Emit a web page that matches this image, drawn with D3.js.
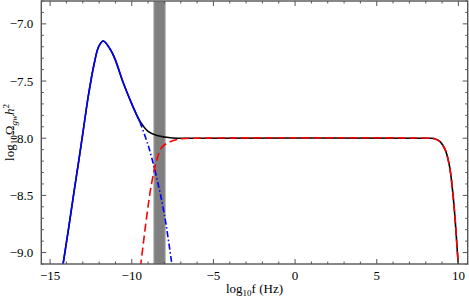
<!DOCTYPE html>
<html>
<head>
<meta charset="utf-8">
<script src="https://cdn.jsdelivr.net/npm/d3@7"></script>
<style>
  body { margin: 0; background: #fff; }
  svg text { font-family: "Liberation Serif", "DejaVu Serif", serif; }
</style>
</head>
<body>
<script>
// values (log10 f, log10 Omega h^2)
const blueCurve = [
  [-14.25, -9.14], [-13.88, -8.80], [-13.58, -8.51], [-13.27, -8.22],
  [-12.96, -7.92], [-12.66, -7.63], [-12.29, -7.34], [-12.02, -7.196],
  [-11.74, -7.15], [-11.33, -7.22], [-11.02, -7.31], [-10.51, -7.52],
  [-10.0, -7.70], [-9.5, -7.86], [-9.0, -8.06], [-8.5, -8.33],
  [-8.0, -8.67], [-7.52, -9.13]
];
const blackTail = [
  [-9.5, -7.85], [-9.0, -7.94], [-8.5, -7.975], [-8.0, -7.99], [-7.5, -7.998],
  [-6.0, -8.0], [8.2, -8.0], [8.5, -8.003], [8.88, -8.03], [9.19, -8.10],
  [9.45, -8.24], [9.66, -8.48], [9.80, -8.71], [9.94, -9.0], [10.02, -9.14]
];
const redCurve = [
  [-9.47, -9.13], [-9.08, -8.68], [-8.78, -8.39], [-8.47, -8.19], [-8.16, -8.08],
  [-7.65, -8.03], [-6.94, -8.005], [-6.0, -8.0], [8.2, -8.0], [8.5, -8.003],
  [8.88, -8.03], [9.19, -8.10], [9.45, -8.24], [9.66, -8.48], [9.80, -8.71],
  [9.94, -9.0], [10.02, -9.14]
];
const bandRange = [-8.65, -7.95];
const xTicks = [-15, -10, -5, 0, 5, 10];
const yTicks = [-9.0, -8.5, -8.0, -7.5, -7.0];

const width = 469, height = 297;
const margin = { top: 1, right: 1.3, bottom: 33, left: 41.3 };
const w = width - margin.left - margin.right;
const h = height - margin.top - margin.bottom;

const svg = d3.select('body').append('svg')
  .attr('width', width)
  .attr('height', height);

const g = svg.append('g')
  .attr('transform', `translate(${margin.left},${margin.top})`);

const x = d3.scaleLinear().domain([-15.54, 10.57]).range([0, w]);
const y = d3.scaleLinear().domain([-9.1, -6.8]).range([h, 0]);

g.append('clipPath').attr('id', 'clip')
  .append('rect').attr('width', w).attr('height', h);

const plot = g.append('g').attr('clip-path', 'url(#clip)');

// grey band
plot.append('rect')
  .attr('x', x(bandRange[0]))
  .attr('y', 0)
  .attr('width', x(bandRange[1]) - x(bandRange[0]))
  .attr('height', h)
  .attr('fill', '#7f7f7f')
  .attr('stroke', '#b3b3b3')
  .attr('stroke-width', 1);

const line = d3.line()
  .x(d => x(d[0]))
  .y(d => y(d[1]))
  .curve(d3.curveCatmullRom.alpha(0.5));

// total (black) follows the blue curve on the left
const blackCurve = blueCurve.filter(d => d[0] < -9.5).concat(blackTail);
plot.append('path')
  .attr('d', line(blackCurve))
  .attr('fill', 'none')
  .attr('stroke', '#000')
  .attr('stroke-width', 1.6);

plot.append('path')
  .attr('d', line(blueCurve.filter(d => d[0] <= -9.5)))
  .attr('fill', 'none')
  .attr('stroke', '#0000ff')
  .attr('stroke-width', 1.6);

plot.append('path')
  .attr('d', line(blueCurve.filter(d => d[0] >= -9.5)))
  .attr('fill', 'none')
  .attr('stroke', '#0000ff')
  .attr('stroke-width', 1.6)
  .attr('stroke-dasharray', '6,2.5,1.5,2.5');

plot.append('path')
  .attr('d', line(redCurve))
  .attr('fill', 'none')
  .attr('stroke', '#ff0000')
  .attr('stroke-width', 1.6)
  .attr('stroke-dasharray', '8,4');

// frame with inward ticks
const frameColor = '#555';
const xMinor = d3.range(-15, 11, 1);
const yMinor = d3.range(-9.1, -6.79, 0.1).map(v => Math.round(v * 10) / 10);

const ticks = g.append('g').attr('stroke', frameColor).attr('stroke-width', 1);
xMinor.forEach(v => {
  const len = v % 5 === 0 ? 5 : 2.5;
  ticks.append('line').attr('x1', x(v)).attr('x2', x(v)).attr('y1', h).attr('y2', h - len);
  ticks.append('line').attr('x1', x(v)).attr('x2', x(v)).attr('y1', 0).attr('y2', len);
});
yMinor.forEach(v => {
  const major = Math.abs(v * 2 - Math.round(v * 2)) < 1e-6;
  const len = major ? 5 : 2.5;
  ticks.append('line').attr('x1', 0).attr('x2', len).attr('y1', y(v)).attr('y2', y(v));
  ticks.append('line').attr('x1', w).attr('x2', w - len).attr('y1', y(v)).attr('y2', y(v));
});

g.append('rect')
  .attr('width', w)
  .attr('height', h)
  .attr('fill', 'none')
  .attr('stroke', frameColor)
  .attr('stroke-width', 1.4);

const fmtMinus = s => s.replace('-', '\u2212');

g.selectAll('.xlab')
  .data(xTicks)
  .enter()
  .append('text')
  .attr('x', d => x(d))
  .attr('y', h + 16)
  .attr('text-anchor', 'middle')
  .style('font-size', '13px')
  .text(d => fmtMinus(d3.format('d')(d)));

g.selectAll('.ylab')
  .data(yTicks)
  .enter()
  .append('text')
  .attr('x', -8)
  .attr('y', d => y(d) + 4.5)
  .attr('text-anchor', 'end')
  .style('font-size', '13px')
  .text(d => fmtMinus(d3.format('.1f')(d)));

// axis titles
const xt = g.append('text')
  .attr('x', w / 2)
  .attr('y', h + 29)
  .attr('text-anchor', 'middle')
  .style('font-size', '13px');
xt.append('tspan').text('log');
xt.append('tspan').attr('dy', 3).style('font-size', '9px').text('10');
xt.append('tspan').attr('dy', -3).text('f (Hz)');

const yt = svg.append('text')
  .attr('transform', `translate(14,${margin.top + h / 2}) rotate(-90)`)
  .attr('text-anchor', 'middle')
  .style('font-size', '13px');
yt.append('tspan').text('log');
yt.append('tspan').attr('dy', 3).style('font-size', '9px').text('10');
yt.append('tspan').attr('dy', -3).text('\u03A9');
yt.append('tspan').attr('dy', 3).style('font-size', '9px').style('font-style', 'italic').text('gw');
yt.append('tspan').attr('dy', -3).style('font-style', 'italic').text('h');
yt.append('tspan').attr('dy', -5).style('font-size', '9px').text('2');
</script>
</body>
</html>
